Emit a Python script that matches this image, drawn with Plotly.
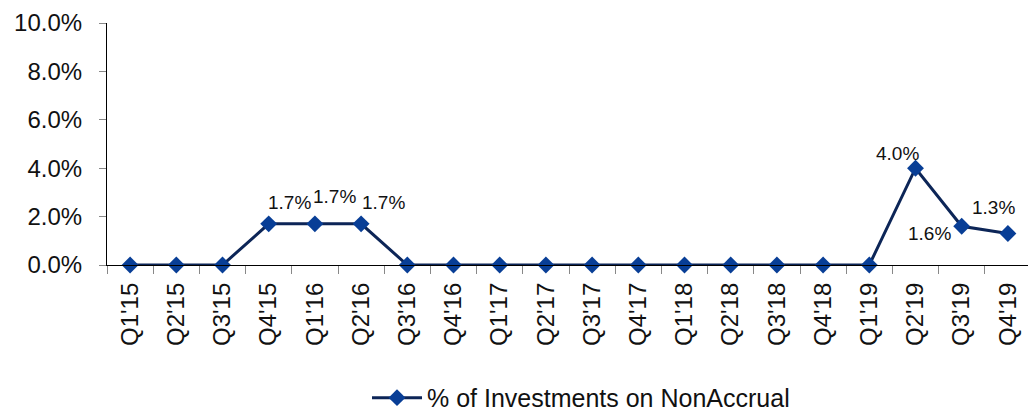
import plotly.graph_objects as go

quarters = ["Q1'15", "Q2'15", "Q3'15", "Q4'15", "Q1'16", "Q2'16", "Q3'16", "Q4'16",
            "Q1'17", "Q2'17", "Q3'17", "Q4'17", "Q1'18", "Q2'18", "Q3'18", "Q4'18",
            "Q1'19", "Q2'19", "Q3'19", "Q4'19"]
nonaccrual_pct = [0.0, 0.0, 0.0, 1.7, 1.7, 1.7, 0.0, 0.0,
                  0.0, 0.0, 0.0, 0.0, 0.0, 0.0, 0.0, 0.0,
                  0.0, 4.0, 1.6, 1.3]
series_name = "% of Investments on NonAccrual"
y_ticks = [0, 2, 4, 6, 8, 10]

# label offsets (pixels) for the labelled points, by quarter
label_offsets = {"Q4'15": (21, 21), "Q1'16": (20, 27), "Q2'16": (22, 21),
                 "Q2'19": (-18, 15), "Q3'19": (-32, -7), "Q4'19": (-14, 26)}

FONT = "Liberation Sans, Arial, sans-serif"

fig = go.Figure()
fig.add_trace(go.Scatter(
    x=quarters, y=nonaccrual_pct, mode="lines+markers", name=series_name,
    line=dict(color="#0C2557", width=3),
    marker=dict(symbol="diamond", size=13, color="#083E96",
                line=dict(width=0)),
    cliponaxis=False,
))

for q, v in zip(quarters, nonaccrual_pct):
    if q in label_offsets:
        dx, dy = label_offsets[q]
        fig.add_annotation(x=q, y=v, text=f"{v:.1f}%", showarrow=False,
                           xshift=dx, yshift=dy,
                           font=dict(family=FONT, size=19, color="#111111"))

fig.update_layout(
    width=1028, height=407,
    margin=dict(l=99, r=5, t=15, b=150),
    paper_bgcolor="white", plot_bgcolor="white",
    font=dict(family=FONT, color="#111111"),
    showlegend=True,
    legend=dict(orientation="h", x=0.513, xanchor="center",
                yref="container", y=0.042, yanchor="middle",
                font=dict(family=FONT, size=25), itemwidth=50),
)
fig.update_xaxes(
    type="category", range=[-0.5, len(quarters) - 0.5], automargin=False,
    showline=True, linecolor="black", linewidth=1.2,
    ticks="outside", tickson="boundaries", ticklen=8, tickcolor="#888888",
    tickangle=-90, tickfont=dict(family=FONT, size=24, color="#111111"),
    ticklabelstandoff=7,
    showgrid=False, zeroline=False,
)
fig.update_yaxes(
    range=[0, 10], tickvals=y_ticks, ticktext=[f"{t:.1f}%" for t in y_ticks],
    automargin=False,
    showline=True, linecolor="black", linewidth=1.2,
    ticks="outside", ticklen=7, tickcolor="#888888",
    tickfont=dict(family=FONT, size=24, color="#111111"),
    ticklabelstandoff=12,
    showgrid=False, zeroline=False,
)

fig.write_html("out.html")
